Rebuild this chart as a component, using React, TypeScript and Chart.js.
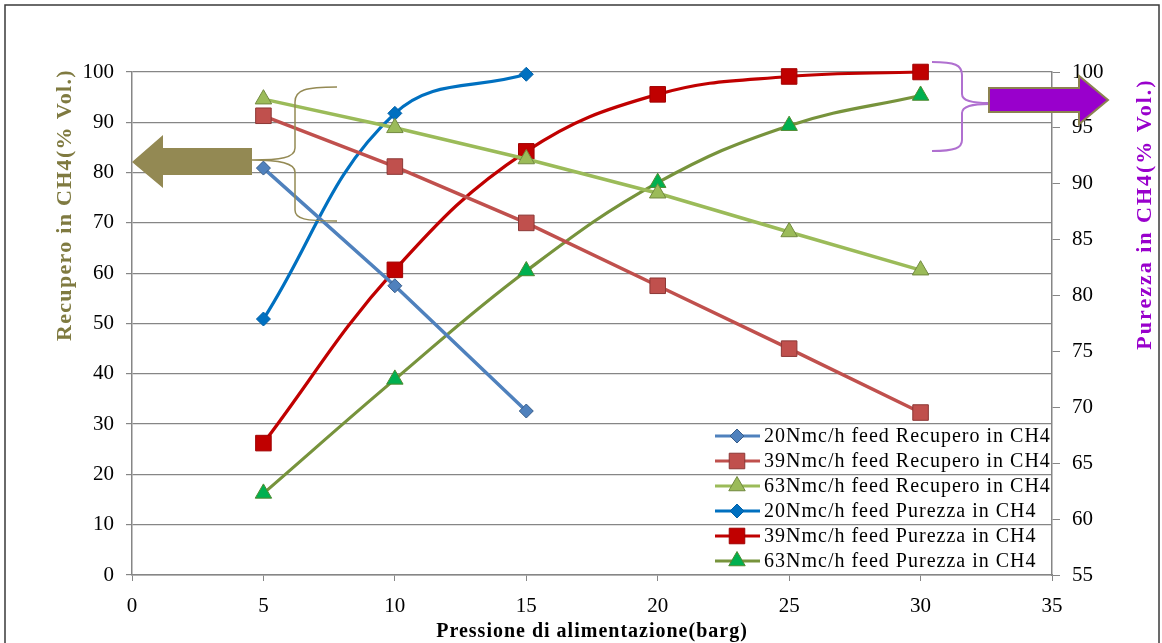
import React, { useEffect, useRef } from "react";
import { Chart, registerables } from "chart.js";

Chart.register(...registerables);

const pressures = [5, 10, 15, 20, 25, 30];

const rec20 = [80.9, 57.5, 32.6];
const rec39 = [91.3, 81.2, 70.0, 57.5, 45.0, 32.3];
const rec63 = [94.6, 88.9, 82.7, 75.9, 68.2, 60.6];
const pur20 = [77.9, 96.3, 99.8];
const pur39 = [66.8, 82.3, 92.9, 98.0, 99.6, 100.0];
const pur63 = [62.3, 72.5, 82.2, 90.1, 95.2, 97.9];

const legendLabels = [
  "20Nmc/h feed Recupero in CH4",
  "39Nmc/h feed Recupero in CH4",
  "63Nmc/h feed Recupero in CH4",
  "20Nmc/h feed Purezza in CH4",
  "39Nmc/h feed Purezza in CH4",
  "63Nmc/h feed Purezza in CH4",
];

const xTitle = "Pressione di alimentazione(barg)";
const yLeftTitle = "Recupero in CH4(% Vol.)";
const yRightTitle = "Purezza in CH4(% Vol.)";

const SERIF = "'Liberation Serif', 'Times New Roman', serif";

function pts(vals: number[]) {
  return vals.map((v, i) => ({ x: pressures[i], y: v }));
}

function drawMarker(ctx: CanvasRenderingContext2D, style: string, x: number, y: number, r: number, fill: string, stroke: string) {
  ctx.save();
  ctx.beginPath();
  if (style === "rectRot") {
    ctx.moveTo(x - r, y);
    ctx.lineTo(x, y - r);
    ctx.lineTo(x + r, y);
    ctx.lineTo(x, y + r);
    ctx.closePath();
  } else if (style === "rect") {
    const s = r * Math.SQRT1_2;
    ctx.rect(x - s, y - s, 2 * s, 2 * s);
  } else {
    ctx.moveTo(x, y - r);
    ctx.lineTo(x + r * Math.sin((2 * Math.PI) / 3), y - r * Math.cos((2 * Math.PI) / 3));
    ctx.lineTo(x + r * Math.sin((4 * Math.PI) / 3), y - r * Math.cos((4 * Math.PI) / 3));
    ctx.closePath();
  }
  ctx.fillStyle = fill;
  ctx.fill();
  ctx.lineWidth = 1;
  ctx.strokeStyle = stroke;
  ctx.stroke();
  ctx.restore();
}

const decorPlugin = {
  id: "decor",
  afterDraw(chart: any) {
    const ctx: any = chart.ctx;
    const area = chart.chartArea;
    ctx.save();
    // outer border
    ctx.strokeStyle = "#3a3a3a";
    ctx.lineWidth = 1.5;
    ctx.strokeRect(5, 5, 1154, 660);

    // axis titles
    ctx.textAlign = "center";
    ctx.textBaseline = "middle";
    ctx.fillStyle = "#000000";
    ctx.font = `bold 20px ${SERIF}`;
    ctx.letterSpacing = "1px";
    ctx.fillText(xTitle, (area.left + area.right) / 2, 632);

    ctx.font = `bold 22px ${SERIF}`;
    ctx.save();
    ctx.letterSpacing = "1.3px";
    ctx.translate(65, 205);
    ctx.rotate(-Math.PI / 2);
    ctx.fillStyle = "#7f7a40";
    ctx.fillText(yLeftTitle, 0, 0);
    ctx.restore();

    ctx.save();
    ctx.letterSpacing = "2px";
    ctx.translate(1145, 214);
    ctx.rotate(-Math.PI / 2);
    ctx.fillStyle = "#9900cc";
    ctx.fillText(yRightTitle, 0, 0);
    ctx.restore();
    ctx.letterSpacing = "0px";

    // olive brace
    ctx.strokeStyle = "#948a54";
    ctx.lineWidth = 1.5;
    ctx.beginPath();
    ctx.moveTo(337, 87);
    ctx.bezierCurveTo(305, 87, 295, 90, 295, 102);
    ctx.lineTo(295, 148);
    ctx.bezierCurveTo(295, 158, 280, 160, 252, 160);
    ctx.moveTo(252, 160);
    ctx.bezierCurveTo(280, 160, 295, 163, 295, 172);
    ctx.lineTo(295, 210);
    ctx.bezierCurveTo(295, 219, 305, 221, 337, 221);
    ctx.stroke();

    // olive arrow (left)
    ctx.beginPath();
    ctx.moveTo(252, 148);
    ctx.lineTo(163, 148);
    ctx.lineTo(163, 135);
    ctx.lineTo(132, 162);
    ctx.lineTo(163, 188);
    ctx.lineTo(163, 175);
    ctx.lineTo(252, 175);
    ctx.closePath();
    ctx.fillStyle = "#938953";
    ctx.fill();

    // purple brace
    ctx.strokeStyle = "#b070d0";
    ctx.lineWidth = 2;
    ctx.beginPath();
    ctx.moveTo(932, 62);
    ctx.bezierCurveTo(955, 62, 962, 65, 962, 75);
    ctx.lineTo(962, 94);
    ctx.bezierCurveTo(962, 101, 972, 103, 989, 103);
    ctx.moveTo(989, 104);
    ctx.bezierCurveTo(972, 104, 962, 106, 962, 113);
    ctx.lineTo(962, 140);
    ctx.bezierCurveTo(962, 148, 955, 151, 932, 151);
    ctx.stroke();

    // purple arrow (right)
    ctx.beginPath();
    ctx.moveTo(989, 88);
    ctx.lineTo(1079, 88);
    ctx.lineTo(1079, 76);
    ctx.lineTo(1108, 100);
    ctx.lineTo(1079, 124);
    ctx.lineTo(1079, 112);
    ctx.lineTo(989, 112);
    ctx.closePath();
    ctx.fillStyle = "#9900cc";
    ctx.fill();
    ctx.strokeStyle = "#8c8250";
    ctx.lineWidth = 2;
    ctx.stroke();

    // legend
    ctx.font = `20px ${SERIF}`;
    ctx.letterSpacing = "1px";
    ctx.textAlign = "left";
    ctx.textBaseline = "middle";
    chart.data.datasets.forEach((ds: any, i: number) => {
      const y = 436 + i * 25;
      ctx.beginPath();
      ctx.moveTo(715, y);
      ctx.lineTo(760, y);
      ctx.strokeStyle = ds.borderColor;
      ctx.lineWidth = 3;
      ctx.stroke();
      drawMarker(ctx, ds.pointStyle, 737, y, ds.pointRadius, ds.pointBackgroundColor, ds.pointBorderColor);
      ctx.fillStyle = "#000000";
      ctx.fillText(ds.label, 764, y + 1);
    });
    ctx.letterSpacing = "0px";
    ctx.restore();
  },
};

export default function App() {
  const canvasRef = useRef<HTMLCanvasElement | null>(null);

  useEffect(() => {
    const canvas = canvasRef.current;
    if (!canvas) return;
    const mk = (label: string, data: number[], axis: string, color: string, style: string, r: number, fill: string, stroke: string, tension: number, width: number) => ({
      label,
      data: pts(data),
      yAxisID: axis,
      borderColor: color,
      borderWidth: width,
      pointStyle: style,
      pointRadius: r,
      pointHoverRadius: r,
      pointBackgroundColor: fill,
      pointBorderColor: stroke,
      pointBorderWidth: 1,
      tension,
      clip: false as any,
      fill: false,
    });
    const datasets = [
      mk(legendLabels[0], rec20, "y", "#4f81bd", "rectRot", 7, "#4f81bd", "#385d8a", 0, 3.5),
      mk(legendLabels[1], rec39, "y", "#c0504d", "rect", 11, "#c0504d", "#8c3836", 0, 3.5),
      mk(legendLabels[2], rec63, "y", "#9bbb59", "triangle", 9.5, "#9bbb59", "#71893f", 0, 3.5),
      mk(legendLabels[3], pur20, "y1", "#0070c0", "rectRot", 7, "#0070c0", "#0060a8", 0.4, 3.2),
      mk(legendLabels[4], pur39, "y1", "#c00000", "rect", 11, "#c00000", "#a00000", 0.4, 3.2),
      mk(legendLabels[5], pur63, "y1", "#77933c", "triangle", 9.5, "#00b050", "#4f8a2f", 0.4, 3.2),
    ];
    const tickFont = { family: SERIF, size: 21 };
    const chart = new Chart(canvas, {
      type: "line",
      data: { datasets },
      options: {
        animation: false,
        responsive: false,
        maintainAspectRatio: false,
        layout: { padding: { top: 72, left: 0, right: 0, bottom: 0 } },
        plugins: { legend: { display: false }, tooltip: { enabled: false }, title: { display: false } },
        scales: {
          x: {
            type: "linear",
            min: 0,
            max: 35,
            ticks: { stepSize: 5, font: tickFont, color: "#000", padding: 13, maxRotation: 0 },
            grid: { drawOnChartArea: false, drawTicks: true, tickLength: 6, color: "#868686" },
            border: { color: "#868686", width: 1.5 },
            afterFit: (s: any) => { s.height = 68; },
          },
          y: {
            position: "left",
            min: 0,
            max: 100,
            ticks: { stepSize: 10, font: tickFont, color: "#000", padding: 12 },
            grid: { color: "#868686", lineWidth: 1.2, tickLength: 6 },
            border: { color: "#868686", width: 1.5 },
            afterFit: (s: any) => { s.width = 132; },
          },
          y1: {
            position: "right",
            min: 55,
            max: 100,
            ticks: { stepSize: 5, font: tickFont, color: "#000", padding: 12 },
            grid: { drawOnChartArea: false, tickLength: 8, color: "#868686" },
            border: { color: "#868686", width: 1.5 },
            afterFit: (s: any) => { s.width = 110; },
          },
        },
      } as any,
      plugins: [decorPlugin],
    });
    return () => chart.destroy();
  }, []);

  return (
    <div style={{ position: "absolute", left: 0, top: 0, width: 1162, height: 643, background: "#fff" }}>
      <canvas ref={canvasRef} width={1162} height={643} style={{ display: "block", width: 1162, height: 643 }} />
    </div>
  );
}
